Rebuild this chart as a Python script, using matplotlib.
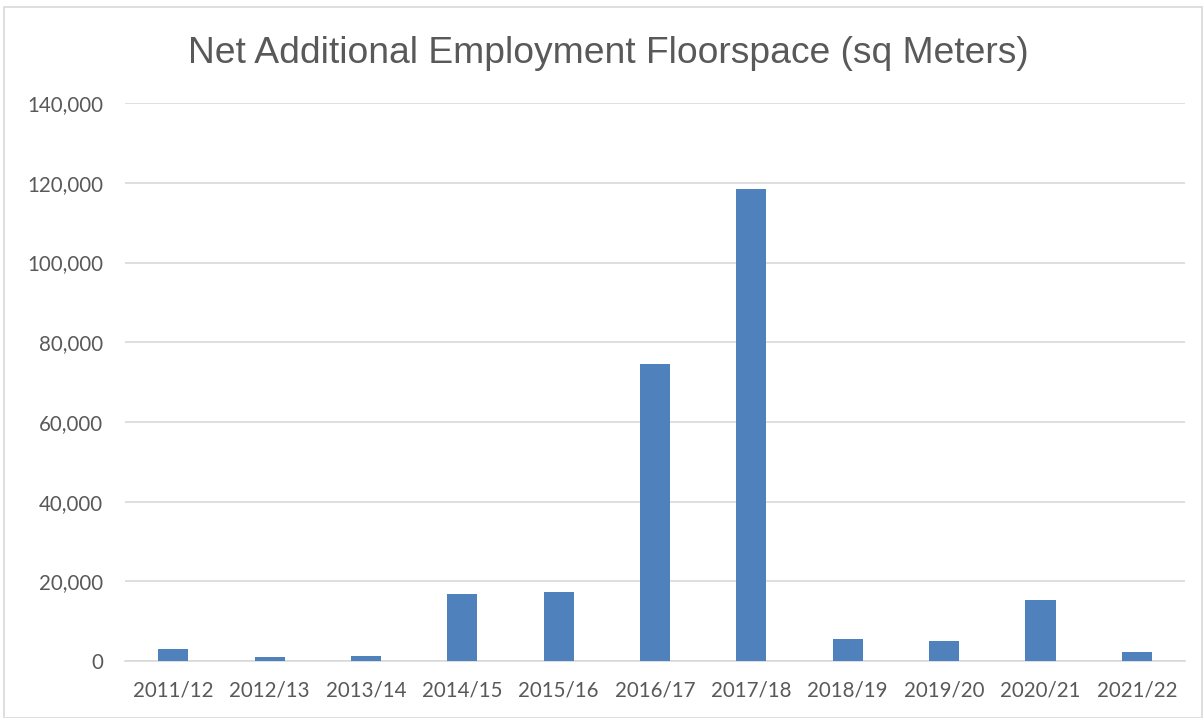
import matplotlib.pyplot as plt
from matplotlib.patches import Rectangle
from matplotlib.ticker import FuncFormatter

years = ["2011/12", "2012/13", "2013/14", "2014/15", "2015/16", "2016/17",
         "2017/18", "2018/19", "2019/20", "2020/21", "2021/22"]
floorspace = [3000, 1000, 1300, 16700, 17200, 74600, 118400, 5500, 5000, 15300, 2300]

bar_color = "#4F81BD"
text_color = "#595959"
grid_color = "#D9D9D9"

fig = plt.figure(figsize=(12.03, 7.18), dpi=100)
ax = fig.add_axes([0.104, 0.0794, 0.881, 0.777])

x = range(len(years))
ax.bar(x, floorspace, width=0.313, color=bar_color, zorder=3)

ax.set_xlim(-0.5, len(years) - 0.5)
ax.set_ylim(0, 140000)
ax.set_yticks(range(0, 140001, 20000))
ax.yaxis.set_major_formatter(FuncFormatter(lambda v, p: f"{int(v):,}"))
ax.set_xticks(list(x))
ax.set_xticklabels(years)

ax.grid(axis="y", color=grid_color, linewidth=1.2, zorder=0)
for side in ["top", "right", "left"]:
    ax.spines[side].set_visible(False)
ax.spines["bottom"].set_color(grid_color)
ax.spines["bottom"].set_linewidth(1.2)

ax.tick_params(axis="y", length=0, pad=16, labelsize=14.8, labelcolor=text_color)
ax.tick_params(axis="x", length=0, pad=14, labelsize=14.8, labelcolor=text_color)
for lbl in ax.get_xticklabels() + ax.get_yticklabels():
    lbl.set_fontfamily("Lato")

fig.text(0.506, 0.926, "Net Additional Employment Floorspace (sq Meters)",
         ha="center", va="center", fontsize=26.8, color=text_color,
         family="Liberation Sans")

fig.patches.append(Rectangle((0.003, 0.0), 0.996, 0.99, transform=fig.transFigure,
                             fill=False, edgecolor=grid_color, linewidth=1.2))

fig.savefig("out.png", dpi=100)
